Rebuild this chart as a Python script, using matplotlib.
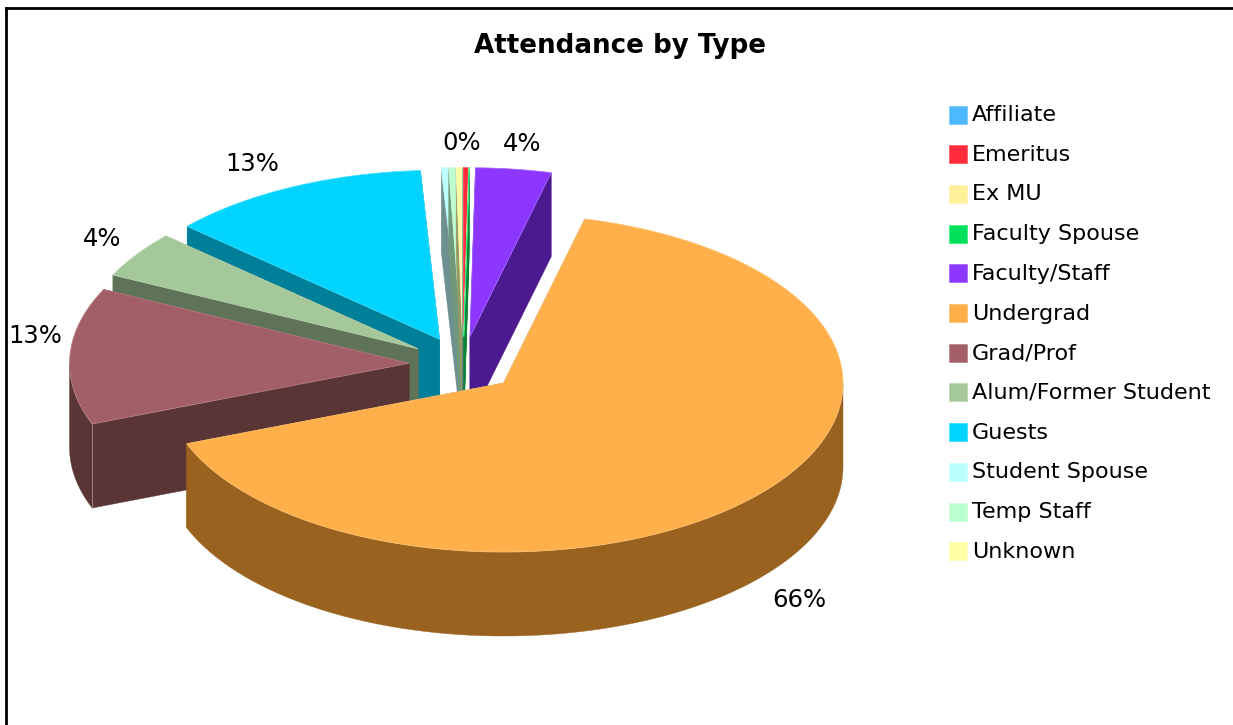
import numpy as np
import matplotlib
matplotlib.use("Agg")
import matplotlib.pyplot as plt
from matplotlib.patches import Polygon, Rectangle

categories = ["Affiliate", "Emeritus", "Ex MU", "Faculty Spouse", "Faculty/Staff", "Undergrad",
              "Grad/Prof", "Alum/Former Student", "Guests", "Student Spouse", "Temp Staff", "Unknown"]
values = [0.01, 0.22, 0.015, 0.015, 3.59, 65.31, 13.05, 4.45, 12.45, 0.3, 0.3, 0.3]
colors = ["#4db8ff", "#ff2a3a", "#fff09a", "#00e05a", "#8c36ff", "#ffb04a",
          "#a35f68", "#a5c89b", "#00d4ff", "#bbffff", "#bbffd0", "#ffffa5"]
side_colors = ["#2e6e99", "#991923", "#99905c", "#008636", "#4c1a8f", "#99621f",
               "#593535", "#5f7358", "#007f99", "#6f9090", "#70997c", "#999963"]
pct_labels = ["0%", "4%", "66%", "13%", "4%", "13%"]
label_pos = [(462, 142.5), (522, 143.5), (799, 600), (35, 336), (102, 238.5), (252, 164)]

# pie geometry in pixels
cx, cy = 463, 364.5
rx, ry = 339.5, 169
ex, ey = 54, 28
depth = 84

fig = plt.figure(figsize=(12.33, 7.25), dpi=100)
ax = fig.add_axes([0, 0, 1, 1])
ax.set_xlim(0, 1233)
ax.set_ylim(725, 0)
ax.axis("off")


def lighter(c, f=0.25):
    r, g, b = matplotlib.colors.to_rgb(c)
    return (r + (1 - r) * f, g + (1 - g) * f, b + (1 - b) * f)


def draw_slice(start, end, color, dark):
    # angles are clockwise from 12 o'clock
    mid = np.radians((start + end) / 2)
    ox = cx + ex * np.sin(mid)
    oy = cy - ey * np.cos(mid)
    a = np.radians(np.linspace(start, end, 200))
    xs = ox + rx * np.sin(a)
    ys = oy - ry * np.cos(a)

    # sides first, top goes over them
    for i in [0, -1]:
        face = [(ox, oy), (xs[i], ys[i]), (xs[i], ys[i] + depth), (ox, oy + depth)]
        ax.add_patch(Polygon(face, closed=True, fc=dark, ec=dark, lw=0.3))
    # only the front part of the rim can be seen
    lo, hi = max(start, 90), min(end, 270)
    if lo < hi:
        b = np.radians(np.linspace(lo, hi, 200))
        rim_x = ox + rx * np.sin(b)
        rim_y = oy - ry * np.cos(b)
        rim = np.vstack([np.column_stack([rim_x, rim_y]),
                         np.column_stack([rim_x, rim_y + depth])[::-1]])
        ax.add_patch(Polygon(rim, closed=True, fc=dark, ec=dark, lw=0.3))
    if 180 < start < 270:
        ax.plot([xs[0], xs[0]], [ys[0], ys[0] + depth], color=lighter(dark, 0.4), lw=0.7)

    top = np.vstack([[(ox, oy)], np.column_stack([xs, ys])])
    ax.add_patch(Polygon(top, closed=True, fc=color, ec=lighter(color), lw=0.5))


edges = np.concatenate([[0], np.cumsum(values)]) / sum(values) * 360
draw_order = [9, 10, 11, 0, 1, 2, 3, 4, 8, 7, 6, 5]
for i in draw_order:
    draw_slice(edges[i], edges[i + 1], colors[i], side_colors[i])

for txt, (x, y) in zip(pct_labels, label_pos):
    ax.text(x, y, txt, ha="center", va="center", fontsize=17.5, color="black")

ax.text(620, 46, "Attendance by Type", ha="center", va="center", fontsize=18.8,
        fontweight="bold", color="black")

# legend
for i, name in enumerate(categories):
    y = 114.5 + i * 39.7
    ax.add_patch(Rectangle((949, y - 9), 18, 18, fc=colors[i], ec=lighter(colors[i]), lw=0.6))
    ax.text(972, y + 0.5, name, ha="left", va="center", fontsize=16, color="black")

# frame, bottom and right run off the picture
ax.plot([6, 6], [725, 8], color="black", lw=2, solid_capstyle="projecting")
ax.plot([6, 1233], [8, 8], color="black", lw=2, solid_capstyle="projecting")

fig.savefig("out.png", dpi=100)
